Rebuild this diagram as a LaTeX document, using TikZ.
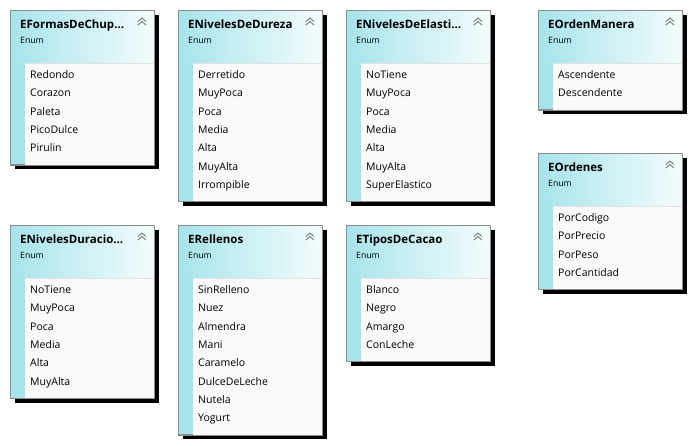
\documentclass[tikz,border=0pt]{standalone}
\usepackage{fontspec}
\setmainfont{Open Sans}
\usetikzlibrary{positioning}
\definecolor{enumcyan}{HTML}{A6E4EB}
\definecolor{enumhead}{HTML}{F4FCFD}
\definecolor{enumlist}{HTML}{FAFAFA}
\definecolor{enumsep}{HTML}{E2E2E2}
\definecolor{enumborder}{HTML}{8C8C8C}
\definecolor{enumchev}{HTML}{6E6E6E}

\tikzset{
  enumframe/.style={draw=enumborder, line width=0.9pt, anchor=north west,
    minimum width=144pt, inner sep=0pt, fill=enumcyan},
  enumshadow/.style={fill=black},
  enumtitle/.style={anchor=base west, inner sep=0pt, font=\fontsize{11.5}{13}\selectfont\bfseries},
  enumkind/.style={anchor=base west, inner sep=0pt, font=\fontsize{8.7}{10}\selectfont},
  enumentry/.style={anchor=base west, inner sep=0pt, font=\fontsize{10.5}{12}\selectfont},
  enumchevron/.style={draw=enumchev, line width=0.8pt},
}

% one enum box: name, x, y, number of entries, title, entries
\newcommand{\enumbox}[6]{%
  \pgfmathsetmacro{\boxh}{81+18.33*(#4-1)}
  \fill[enumshadow] (#2+5,#3+5) rectangle ++(144,\boxh);
  \node[enumframe, minimum height=\boxh pt] (#1) at (#2,#3) {};
  \shade[left color=enumcyan, right color=enumhead]
    ([shift={(0.5,0.5)}]#1.north west) rectangle ([shift={(-0.5,53)}]#1.north east);
  \fill[enumlist] ([shift={(15,53)}]#1.north west) rectangle ([shift={(-0.5,-0.5)}]#1.south east);
  \draw[enumsep, line width=0.8pt] ([shift={(15,53)}]#1.north west) -- ([shift={(-0.5,53)}]#1.north east);
  \draw[enumborder, line width=0.9pt] (#1.north west) rectangle (#1.south east);
  \foreach \dy in {8,11.5}
    \draw[enumchevron] ([shift={(-17,\dy+3.5)}]#1.north east) -- ++(4,-3.5) -- ++(4,3.5);
  \node[enumtitle] (#1-title) at ([shift={(10,19)}]#1.north west) {#5};
  \node[enumkind] (#1-kind) at ([shift={(10,33.5)}]#1.north west) {Enum};
  \foreach \entry [count=\i] in {#6}
    \node[enumentry] (#1-\i) at ([shift={(20,68.5+18.33*(\i-1))}]#1.north west) {\entry};
}

\begin{document}
\begin{tikzpicture}[x=1pt, y=-1pt]
  \useasboundingbox (0,0) rectangle (691,446);

  % first row
  \enumbox{formas}{10}{10}{5}{EFormasDeChup...}{Redondo,Corazon,Paleta,PicoDulce,Pirulin}
  \enumbox{dureza}{178}{10}{7}{ENivelesDeDureza}{Derretido,MuyPoca,Poca,Media,Alta,MuyAlta,Irrompible}
  \enumbox{elastic}{346}{10}{7}{ENivelesDeElasti...}{NoTiene,MuyPoca,Poca,Media,Alta,MuyAlta,SuperElastico}
  \enumbox{manera}{538}{10}{2}{EOrdenManera}{Ascendente,Descendente}
  \enumbox{ordenes}{538}{153}{4}{EOrdenes}{PorCodigo,PorPrecio,PorPeso,PorCantidad}

  % second row
  \enumbox{duracion}{10}{225}{6}{ENivelesDuracio...}{NoTiene,MuyPoca,Poca,Media,Alta,MuyAlta}
  \enumbox{rellenos}{178}{225}{8}{ERellenos}{SinRelleno,Nuez,Almendra,Mani,Caramelo,DulceDeLeche,Nutela,Yogurt}
  \enumbox{cacao}{346}{225}{4}{ETiposDeCacao}{Blanco,Negro,Amargo,ConLeche}
\end{tikzpicture}
\end{document}
